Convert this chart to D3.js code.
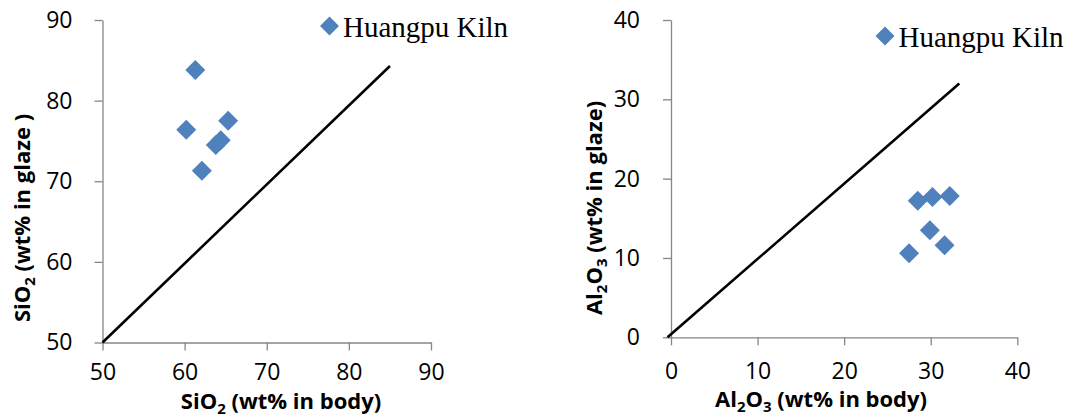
<!DOCTYPE html>
<html>
<head>
<meta charset="utf-8">
<script src="https://cdn.jsdelivr.net/npm/d3@7"></script>
<style>
  html, body { margin: 0; padding: 0; background: #fff; }
  svg { display: block; }
  .tick text { font-family: "Open Sans", sans-serif; font-size: 23px; fill: #000; }
  .axis-title { font-family: "Open Sans", sans-serif; font-size: 22px; font-weight: bold; fill: #000; }
  .legend-text { font-family: "Liberation Serif", "Times New Roman", serif; font-size: 29px; fill: #000; }
</style>
</head>
<body>
<svg width="1068" height="419"></svg>
<script>
const svg = d3.select("svg");

// Huangpu Kiln: SiO2 body vs glaze
const sio2Body  = [61.3, 60.2, 65.3, 63.8, 64.4, 62.1];
const sio2Glaze = [83.8, 76.4, 77.5, 74.5, 75.1, 71.3];

// Huangpu Kiln: Al2O3 body vs glaze
const al2o3Body  = [28.5, 30.2, 32.2, 29.9, 31.6, 27.5];
const al2o3Glaze = [17.2, 17.7, 17.8, 13.5, 11.6, 10.6];

// reference lines (x, y end points)
const sio2LineX = [50, 85];
const sio2LineY = [50, 84.3];
const al2o3LineX = [-0.4, 33.3];
const al2o3LineY = [0, 32];

const sio2Ticks = [50, 60, 70, 80, 90];
const al2o3Ticks = [0, 10, 20, 30, 40];

const seriesName = "Huangpu Kiln";
const blue = "#4F81BD";
const axisGrey = "#868686";
const diamond = r => `M0,${-r}L${r},0L0,${r}L${-r},0Z`;

function panel(cfg) {
  const x = d3.scaleLinear().domain(cfg.domain).range(cfg.xRange);
  const y = d3.scaleLinear().domain(cfg.domain).range(cfg.yRange);
  const g = svg.append("g");

  // axes
  const xAxis = g.append("g")
    .attr("transform", `translate(0,${cfg.yRange[0]})`)
    .call(d3.axisBottom(x).tickValues(cfg.ticks).tickSize(8).tickSizeOuter(0).tickPadding(cfg.xPad));
  const yAxis = g.append("g")
    .attr("transform", `translate(${cfg.xRange[0]},0)`)
    .call(d3.axisLeft(y).tickValues(cfg.ticks).tickSize(8).tickSizeOuter(0).tickPadding(cfg.yPad));
  [xAxis, yAxis].forEach(a => {
    a.select(".domain").attr("stroke", axisGrey).attr("stroke-width", 1.3);
    a.selectAll(".tick line").attr("stroke", axisGrey).attr("stroke-width", 1.3);
  });

  // 1:1 line
  g.append("line")
    .attr("x1", x(cfg.lineX[0])).attr("y1", y(cfg.lineY[0]))
    .attr("x2", x(cfg.lineX[1])).attr("y2", y(cfg.lineY[1]))
    .attr("stroke", "#000").attr("stroke-width", 2.6);

  // points
  g.append("g").selectAll("path")
    .data(cfg.xs.map((v, i) => [v, cfg.ys[i]]))
    .join("path")
    .attr("d", diamond(10))
    .attr("transform", d => `translate(${x(d[0])},${y(d[1])})`)
    .attr("fill", blue);

  // legend
  g.append("path")
    .attr("d", diamond(9.5))
    .attr("transform", `translate(${cfg.legend[0]},${cfg.legend[1]})`)
    .attr("fill", blue);
  g.append("text")
    .attr("class", "legend-text")
    .attr("x", cfg.legend[0] + 13.5)
    .attr("y", cfg.legend[1] + 10.5)
    .text(seriesName);

  // x title
  const xt = g.append("text")
    .attr("class", "axis-title")
    .attr("text-anchor", "middle")
    .attr("x", cfg.xTitlePos[0])
    .attr("y", cfg.xTitlePos[1]);
  addFormula(xt, cfg.formula, cfg.xTitleRest);

  // y title
  const yt = g.append("text")
    .attr("class", "axis-title")
    .attr("text-anchor", "middle")
    .attr("transform", `translate(${cfg.yTitlePos[0]},${cfg.yTitlePos[1]}) rotate(-90)`);
  addFormula(yt, cfg.formula, cfg.yTitleRest);
}

// chemical formula with subscripts, then the rest of the title
function addFormula(t, parts, rest) {
  let shifted = false;
  parts.concat([{ s: rest }]).forEach(p => {
    const ts = t.append("tspan").text(p.s);
    if (p.sub) {
      ts.attr("font-size", "15px").attr("dy", shifted ? 0 : 5);
      shifted = true;
    } else if (shifted) {
      ts.attr("dy", -5);
      shifted = false;
    }
  });
}

panel({
  domain: [50, 90],
  ticks: sio2Ticks,
  xRange: [102.5, 431],
  yRange: [342.5, 20],
  xPad: 13, yPad: 22,
  lineX: sio2LineX, lineY: sio2LineY,
  xs: sio2Body, ys: sio2Glaze,
  legend: [329.5, 26],
  formula: [{ s: "SiO" }, { s: "2", sub: true }],
  xTitlePos: [281, 409],
  xTitleRest: " (wt% in body)",
  yTitleRest: " (wt% in glaze )",
  yTitlePos: [30, 218]
});

panel({
  domain: [0, 40],
  ticks: al2o3Ticks,
  xRange: [671, 1017.3],
  yRange: [337.3, 20],
  xPad: 17, yPad: 23,
  lineX: al2o3LineX, lineY: al2o3LineY,
  xs: al2o3Body, ys: al2o3Glaze,
  legend: [885, 36],
  formula: [{ s: "Al" }, { s: "2", sub: true }, { s: "O" }, { s: "3", sub: true }],
  xTitleRest: " (wt% in body)",
  yTitleRest: " (wt% in glaze)",
  xTitlePos: [821, 407],
  yTitlePos: [602, 208]
});
</script>
</body>
</html>
